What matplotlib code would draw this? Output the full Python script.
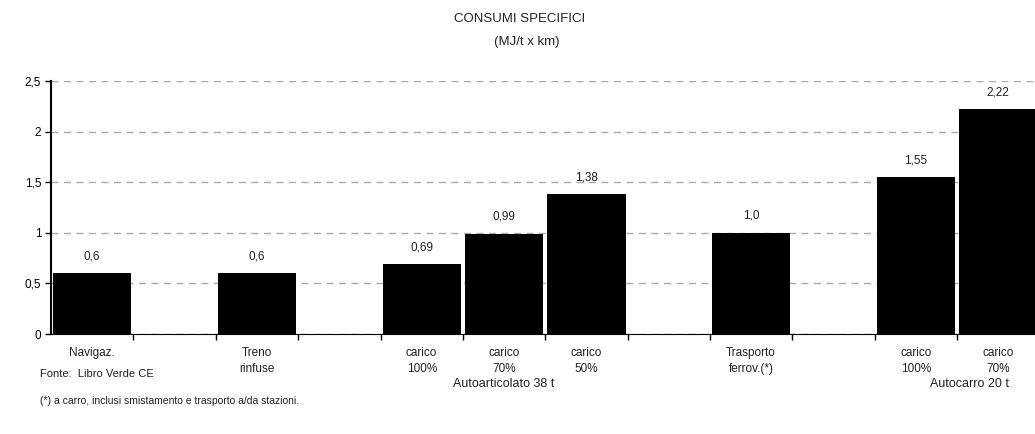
import matplotlib.pyplot as plt
from matplotlib.transforms import blended_transform_factory
import numpy as np

plt.rcParams['font.family'] = ['Liberation Sans', 'DejaVu Sans']

# Dati
posizioni = [0, 2, 4, 5, 6, 8, 10, 11]
valori = [0.6, 0.6, 0.69, 0.99, 1.38, 1.0, 1.55, 2.22]
etichette_valori = ['0,6', '0,6', '0,69', '0,99', '1,38', '1,0', '1,55', '2,22']
categorie = ['Navigaz.', 'Treno\nrinfuse', 'carico\n100%', 'carico\n70%', 'carico\n50%',
             'Trasporto\nferrov.(*)', 'carico\n100%', 'carico\n70%']
gruppi = [('Autoarticolato 38 t', 5), ('Autocarro 20 t', 10.65)]
yticks = [0, 0.5, 1, 1.5, 2, 2.5]
ytick_labels = ['0', '0,5', '1', '1,5', '2', '2,5']

fig = plt.figure(figsize=(10.35, 4.34), dpi=100)
ax = fig.add_axes([0.0493, 0.2304, 0.955, 0.583])

ax.bar(posizioni, valori, width=0.95, color='black', zorder=3)
for x, v, t in zip(posizioni, valori, etichette_valori):
    ax.annotate(t, xy=(x, v), xytext=(0, 8), textcoords='offset points',
                ha='center', va='bottom', fontsize=8.5, color='#222222')

ax.set_xlim(-0.5, 11.5)
ax.set_ylim(0, 2.5)
ax.set_yticks(yticks)
ax.set_yticklabels(ytick_labels, fontsize=8.5)
ax.set_xticks(np.arange(0.5, 11.5, 1))
ax.set_xticklabels([])
ax.tick_params(axis='both', direction='out', length=4, width=1, pad=3)
ax.yaxis.grid(True, linestyle=(0, (5, 4)), color='#aaaaaa', linewidth=1, zorder=0)
ax.spines['top'].set_visible(False)
ax.spines['right'].set_visible(False)
ax.spines['left'].set_linewidth(1.5)

tr = blended_transform_factory(ax.transData, fig.transFigure)
for x, c in zip(posizioni, categorie):
    ax.text(x, 1 - 347 / 434, c, transform=tr, ha='center', va='top',
            fontsize=8.5, color='#222222', linespacing=1.45)
for g, x in gruppi:
    ax.text(x, 1 - 384 / 434, g, transform=tr, ha='center', va='center',
            fontsize=9, color='#222222')

fig.text(40 / 1035, 1 - 374 / 434, 'Fonte:  Libro Verde CE', ha='left', va='center',
         fontsize=8, color='#222222')
fig.text(40 / 1035, 1 - 401 / 434, '(*) a carro, inclusi smistamento e trasporto a/da stazioni.',
         ha='left', va='center', fontsize=7.5, color='#222222')
fig.text(520 / 1035, 1 - 19 / 434, 'CONSUMI SPECIFICI', ha='center', va='center',
         fontsize=9.5, color='#222222')
fig.text(527 / 1035, 1 - 42 / 434, '(MJ/t x km)', ha='center', va='center',
         fontsize=9.5, color='#222222')

fig.savefig('out.png', dpi=100)
